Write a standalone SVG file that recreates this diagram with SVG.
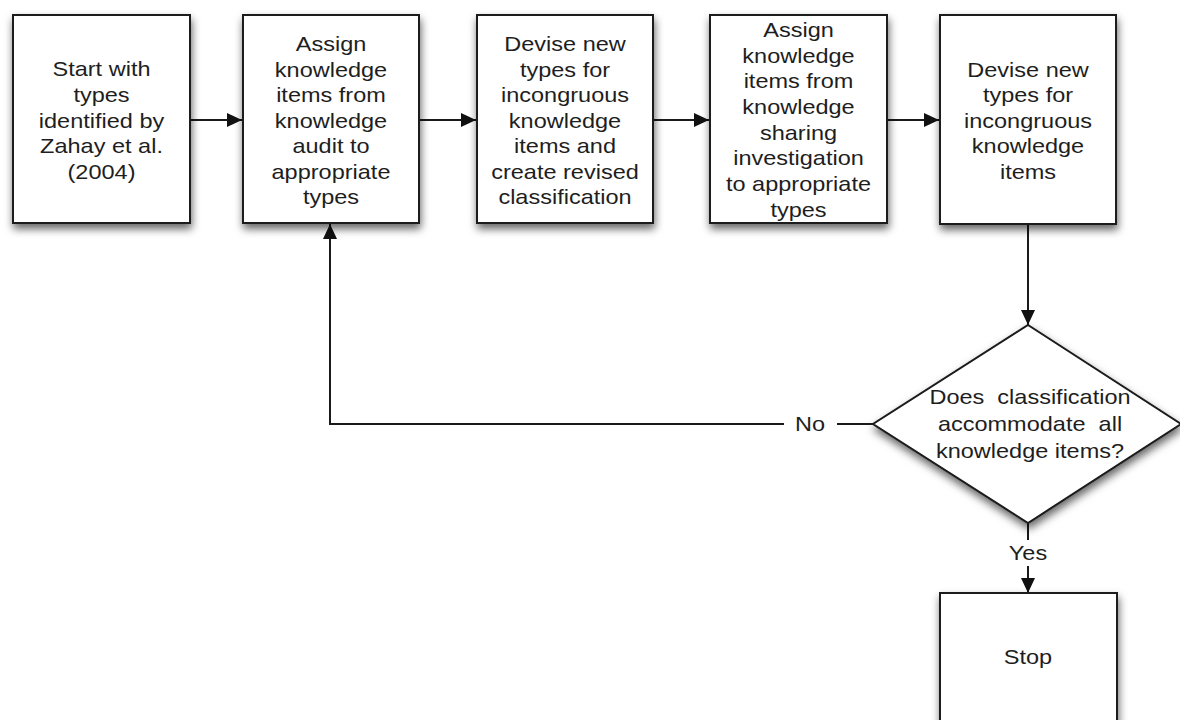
<svg xmlns="http://www.w3.org/2000/svg" width="1180" height="720" viewBox="0 0 1180 720">
  <style>
    .box { fill: #ffffff; stroke: #1a1a1a; stroke-width: 2; filter: url(#shadow); }
    .lbl { font-family: "Liberation Sans", Arial, sans-serif; font-size: 21px; fill: #1e1e1e; text-anchor: middle; }
    .conn { fill: none; stroke: #1a1a1a; stroke-width: 2; }
  </style>
  <defs>
    <filter id="shadow" x="-20%" y="-20%" width="140%" height="150%">
      <feDropShadow dx="1" dy="5" stdDeviation="4" flood-color="#000" flood-opacity="0.6"/>
    </filter>
    <marker id="arrow" markerUnits="userSpaceOnUse" markerWidth="16" markerHeight="14" refX="15" refY="7" orient="auto">
      <path d="M0,0 L15,7 L0,14 Z" fill="#111"/>
    </marker>
  </defs>

  <rect width="1180" height="720" fill="#ffffff"/>

  <!-- connectors -->
  <g id="connectors" class="conn">
    <line x1="190" y1="120" x2="242" y2="120" marker-end="url(#arrow)"/>
    <line x1="419" y1="120" x2="476" y2="120" marker-end="url(#arrow)"/>
    <line x1="653" y1="120" x2="709" y2="120" marker-end="url(#arrow)"/>
    <line x1="887" y1="120" x2="939" y2="120" marker-end="url(#arrow)"/>
    <line x1="1028" y1="224" x2="1028" y2="325" marker-end="url(#arrow)"/>
    <path d="M873 424 H837 M784 424 H330 V224" marker-end="url(#arrow)"/>
    <path d="M1028 523 V540 M1028 566 V593" marker-end="url(#arrow)"/>
  </g>
  <g id="edge-labels">
    <g transform="translate(810 0) scale(1.12 1)"><text class="lbl" x="0" y="431">No</text></g>
    <g transform="translate(1028 0) scale(1.12 1)"><text class="lbl" x="0" y="560">Yes</text></g>
  </g>

  <!-- process steps -->
  <g id="n1">
    <rect class="box" x="13" y="15" width="177" height="208"/>
    <g transform="translate(101.5 0) scale(1.12 1)">
      <text class="lbl" x="0" y="76">Start with</text>
      <text class="lbl" x="0" y="102">types</text>
      <text class="lbl" x="0" y="128">identified by</text>
      <text class="lbl" x="0" y="153">Zahay et al.</text>
      <text class="lbl" x="0" y="179">(2004)</text>
    </g>
  </g>

  <g id="n2">
    <rect class="box" x="243" y="15" width="176" height="208"/>
    <g transform="translate(331 0) scale(1.12 1)">
      <text class="lbl" x="0" y="51">Assign</text>
      <text class="lbl" x="0" y="77">knowledge</text>
      <text class="lbl" x="0" y="102">items from</text>
      <text class="lbl" x="0" y="128">knowledge</text>
      <text class="lbl" x="0" y="153">audit to</text>
      <text class="lbl" x="0" y="179">appropriate</text>
      <text class="lbl" x="0" y="204">types</text>
    </g>
  </g>

  <g id="n3">
    <rect class="box" x="477" y="15" width="176" height="208"/>
    <g transform="translate(565 0) scale(1.12 1)">
      <text class="lbl" x="0" y="51">Devise new</text>
      <text class="lbl" x="0" y="77">types for</text>
      <text class="lbl" x="0" y="102">incongruous</text>
      <text class="lbl" x="0" y="128">knowledge</text>
      <text class="lbl" x="0" y="153">items and</text>
      <text class="lbl" x="0" y="179">create revised</text>
      <text class="lbl" x="0" y="204">classification</text>
    </g>
  </g>

  <g id="n4">
    <rect class="box" x="710" y="15" width="177" height="208"/>
    <g transform="translate(798.5 0) scale(1.12 1)">
      <text class="lbl" x="0" y="37">Assign</text>
      <text class="lbl" x="0" y="63">knowledge</text>
      <text class="lbl" x="0" y="88">items from</text>
      <text class="lbl" x="0" y="114">knowledge</text>
      <text class="lbl" x="0" y="140">sharing</text>
      <text class="lbl" x="0" y="165">investigation</text>
      <text class="lbl" x="0" y="191">to appropriate</text>
      <text class="lbl" x="0" y="217">types</text>
    </g>
  </g>

  <g id="n5">
    <rect class="box" x="940" y="15" width="176" height="209"/>
    <g transform="translate(1028 0) scale(1.12 1)">
      <text class="lbl" x="0" y="77">Devise new</text>
      <text class="lbl" x="0" y="102">types for</text>
      <text class="lbl" x="0" y="128">incongruous</text>
      <text class="lbl" x="0" y="153">knowledge</text>
      <text class="lbl" x="0" y="179">items</text>
    </g>
  </g>

  <!-- decision -->
  <g id="decision">
    <polygon class="box" points="1028,325 1181,424 1028,523 873,424"/>
    <g transform="translate(1030 0) scale(1.12 1)">
      <text class="lbl" x="0" y="404" xml:space="preserve">Does  classification</text>
      <text class="lbl" x="0" y="431" xml:space="preserve">accommodate  all</text>
      <text class="lbl" x="0" y="458">knowledge items?</text>
    </g>
  </g>

  <g id="stop">
    <rect class="box" x="940" y="593" width="177" height="140"/>
    <g transform="translate(1028 0) scale(1.12 1)">
      <text class="lbl" x="0" y="664">Stop</text>
    </g>
  </g>
</svg>
